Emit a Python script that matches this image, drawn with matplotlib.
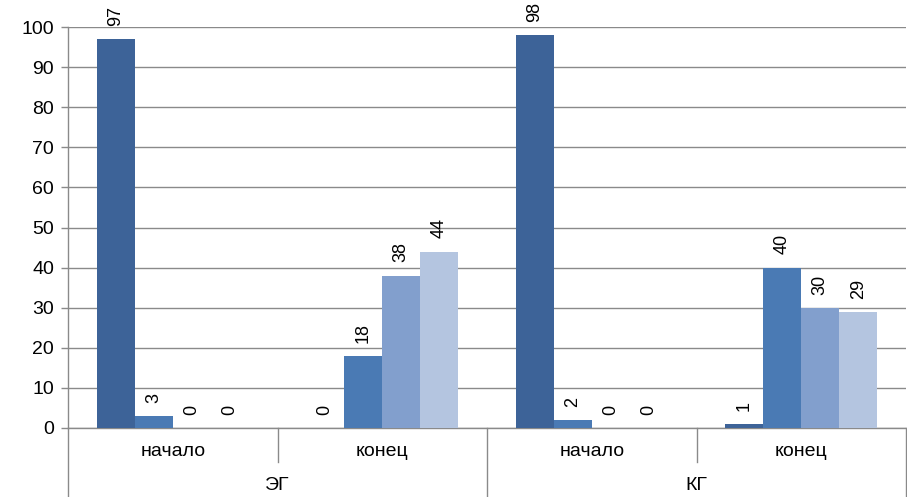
import matplotlib
matplotlib.use("Agg")
import matplotlib.pyplot as plt
import numpy as np

# ---------------------------------------------------------------------------
# Data
# ---------------------------------------------------------------------------
groups = ["ЭГ", "КГ"]
stages = ["начало", "конец"]
# four series per category (ЭГ начало, ЭГ конец, КГ начало, КГ конец)
series_1 = [97, 0, 98, 1]
series_2 = [3, 18, 2, 40]
series_3 = [0, 38, 0, 30]
series_4 = [0, 44, 0, 29]
y_ticks = list(range(0, 101, 10))

COLORS = ["#3D6398", "#4A7AB4", "#829FCD", "#B4C5E0"]
GRID = "#8A8A8A"

plt.rcParams["font.family"] = ["Liberation Sans", "DejaVu Sans"]

fig = plt.figure(figsize=(9.07, 4.97), dpi=100)
ax = fig.add_axes([68 / 907, 69 / 497, 838 / 907, 401 / 497])

n_cat = len(series_1)
x = np.arange(n_cat) + 0.5
w = 1 / 5.5  # Excel-like gap width 150%
all_series = [series_1, series_2, series_3, series_4]

for i, (vals, col) in enumerate(zip(all_series, COLORS)):
    xs = x + (i - 1.5) * w
    ax.bar(xs, vals, width=w, color=col, edgecolor="none", zorder=3)
    for xi, v in zip(xs, vals):
        ax.annotate(str(v), xy=(xi, v), xytext=(0, 9.5), textcoords="offset points",
                    rotation=90, ha="center", va="bottom", fontsize=13,
                    color="black", annotation_clip=False)

ax.set_xlim(0, n_cat)
ax.set_ylim(0, 100)
ax.set_yticks(y_ticks)
ax.tick_params(axis="y", length=5, width=1, color=GRID, labelsize=14, pad=5)
ax.tick_params(axis="x", length=0, labelbottom=False)
ax.yaxis.grid(True, color=GRID, linewidth=1, zorder=0)
ax.set_axisbelow(True)
for s in ["top", "right"]:
    ax.spines[s].set_visible(False)
for s in ["left", "bottom"]:
    ax.spines[s].set_color(GRID)
    ax.spines[s].set_linewidth(1)

# two-level category axis
tr = ax.get_xaxis_transform()
short_y = -34 / 401
long_y = -69 / 401
for k in range(n_cat + 1):
    y_end = long_y if k % 2 == 0 else short_y
    ax.plot([k, k], [0, y_end], transform=tr, color=GRID, lw=1, clip_on=False)
for k in range(n_cat):
    ax.text(k + 0.5, -23 / 401, stages[k % 2], transform=tr, ha="center", va="center",
            fontsize=14)
for g, name in enumerate(groups):
    ax.text(2 * g + 1, -57 / 401, name, transform=tr, ha="center", va="center",
            fontsize=14)

fig.savefig("out.png", dpi=100)
